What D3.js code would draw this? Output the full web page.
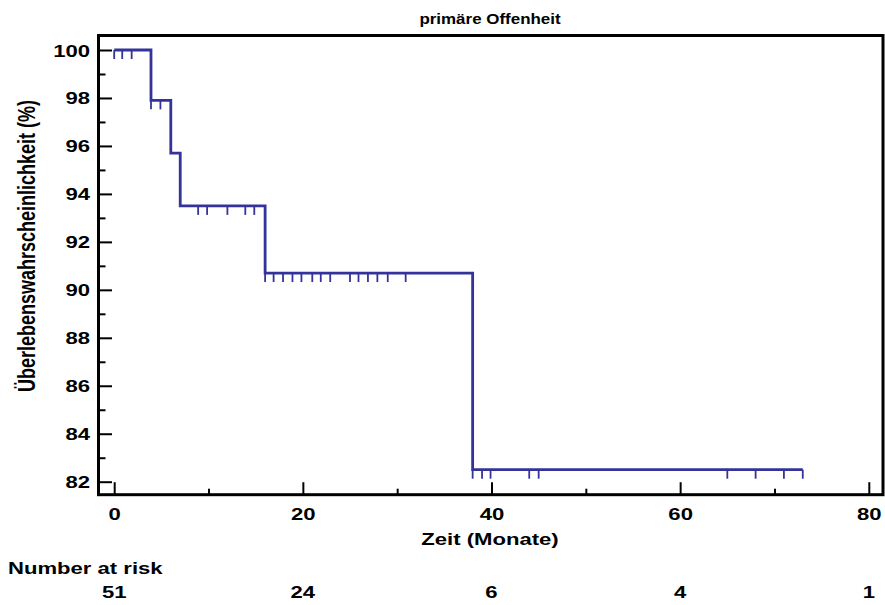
<!DOCTYPE html>
<html>
<head>
<meta charset="utf-8">
<script src="https://cdn.jsdelivr.net/npm/d3@7/dist/d3.min.js"></script>
<style>
  html, body { margin: 0; padding: 0; background: #fff; }
  svg { display: block; }
  text { font-family: "Liberation Sans", Arial, sans-serif; font-weight: bold; fill: #000; }
</style>
</head>
<body>
<svg id="chart" width="885" height="605"></svg>
<script>
// Kaplan-Meier estimate: step times (months) and survival (%) after each step
const stepTimes = [0, 3.9, 6, 7, 16, 38];
const stepSurvival = [100, 97.9, 95.7, 93.5, 90.7, 82.5];
const lastTime = 73;

// Censored observations (months)
const censorTimes = [0, 0.85, 1.85, 3.9, 4.9, 8.9, 9.85, 12, 13.9, 14.85,
  16, 16.9, 17.9, 18.9, 19.85, 21, 21.9, 22.9, 25, 25.9, 26.9, 27.9, 29, 30.9,
  38, 39, 39.9, 44, 45, 65, 68, 71, 73];

// Axis ticks
const yMajorTicks = [82, 84, 86, 88, 90, 92, 94, 96, 98, 100];
const yMinorTicks = [83, 85, 87, 89, 91, 93, 95, 97, 99];
const xMajorTicks = [0, 20, 40, 60, 80];
const xMinorTicks = [10, 30, 50, 70];

// Number at risk below the axis
const riskTimes = [0, 20, 40, 60, 80];
const riskCounts = [51, 24, 6, 4, 1];

const title = "primäre Offenheit";
const xTitle = "Zeit (Monate)";
const yTitle = "Überlebenswahrscheinlichkeit (%)";
const riskTitle = "Number at risk";

const svg = d3.select("#chart");
const curveColor = "#333399";
const sx = 1.3;      // horizontal stretch of lettering
const fs = 17;

const frame = { left: 98.5, right: 883, top: 35.5, bottom: 494.7 };
const x = d3.scaleLinear().domain([0, 80]).range([114.2, 868.8]);
const y = d3.scaleLinear().domain([82, 100]).range([481.7, 50]);

function stretchText(sel, k = sx) {
  sel.each(function () {
    const t = d3.select(this);
    const tx = +t.attr("x") || 0, ty = +t.attr("y") || 0;
    t.attr("x", 0).attr("y", 0)
     .attr("transform", `translate(${tx},${ty}) scale(${k},1)`);
  });
}

// Y axis: major ticks with labels, minor ticks
const yAxis = svg.append("g")
  .attr("transform", `translate(${frame.left},0)`)
  .call(d3.axisLeft(y).tickValues(yMajorTicks).tickSize(-13.5).tickPadding(8.5).tickFormat(d3.format("d")));
yAxis.select(".domain").remove();
yAxis.selectAll(".tick line").attr("stroke", "#000").attr("stroke-width", 2);
yAxis.selectAll(".tick text")
  .attr("dy", null).attr("y", 6)
  .style("font-size", fs + "px").style("font-family", null)
  .call(stretchText);

const yMinor = svg.append("g")
  .attr("transform", `translate(${frame.left},0)`)
  .call(d3.axisLeft(y).tickValues(yMinorTicks).tickSize(-7).tickFormat(""));
yMinor.select(".domain").remove();
yMinor.selectAll(".tick line").attr("stroke", "#000").attr("stroke-width", 2);

// X axis: major ticks with labels, minor ticks
const xAxis = svg.append("g")
  .attr("transform", `translate(0,${frame.bottom})`)
  .call(d3.axisBottom(x).tickValues(xMajorTicks).tickSize(-12.5).tickFormat(d3.format("d")));
xAxis.select(".domain").remove();
xAxis.selectAll(".tick line").attr("stroke", "#000").attr("stroke-width", 2);
xAxis.selectAll(".tick text")
  .attr("dy", null).attr("y", 25.5)
  .style("font-size", fs + "px").style("font-family", null)
  .call(stretchText);

const xMinor = svg.append("g")
  .attr("transform", `translate(0,${frame.bottom})`)
  .call(d3.axisBottom(x).tickValues(xMinorTicks).tickSize(-6).tickFormat(""));
xMinor.select(".domain").remove();
xMinor.selectAll(".tick line").attr("stroke", "#000").attr("stroke-width", 2);

// Plot frame
svg.append("rect")
  .attr("x", frame.left).attr("y", frame.top)
  .attr("width", frame.right - frame.left).attr("height", frame.bottom - frame.top)
  .attr("fill", "none").attr("stroke", "#000").attr("stroke-width", 3);

// Survival step curve
const curvePts = stepTimes.map((t, i) => [t, stepSurvival[i]]);
curvePts.push([lastTime, stepSurvival[stepSurvival.length - 1]]);
svg.append("path")
  .datum(curvePts)
  .attr("fill", "none")
  .attr("stroke", curveColor)
  .attr("stroke-width", 2.8)
  .attr("stroke-linejoin", "miter")
  .attr("d", d3.line().x(d => x(d[0])).y(d => y(d[1])).curve(d3.curveStepAfter));

// Survival at a given time (value after any step at that time)
function survivalAt(t) {
  let s = stepSurvival[0];
  stepTimes.forEach((st, i) => { if (st <= t) s = stepSurvival[i]; });
  return s;
}

// Censor marks hang below the curve
svg.append("g").selectAll("line")
  .data(censorTimes)
  .join("line")
  .attr("x1", d => x(d)).attr("x2", d => x(d))
  .attr("y1", d => y(survivalAt(d)))
  .attr("y2", d => y(survivalAt(d)) + 9)
  .attr("stroke", curveColor)
  .attr("stroke-width", 1.8);

// Titles
svg.append("text")
  .attr("x", 490).attr("y", 24)
  .attr("text-anchor", "middle")
  .style("font-size", "15px")
  .text(title)
  .call(stretchText, 1.13);

svg.append("text")
  .attr("x", 490).attr("y", 545)
  .attr("text-anchor", "middle")
  .style("font-size", fs + "px")
  .text(xTitle)
  .call(stretchText);

svg.append("text")
  .attr("transform", `translate(35,246) rotate(-90) scale(1,${sx})`)
  .attr("text-anchor", "middle")
  .style("font-size", "18px")
  .text(yTitle);

// Number at risk table
svg.append("text")
  .attr("x", 8).attr("y", 574)
  .attr("text-anchor", "start")
  .style("font-size", fs + "px")
  .text(riskTitle)
  .call(stretchText);

svg.append("g").selectAll("text")
  .data(riskTimes)
  .join("text")
  .attr("x", d => x(d)).attr("y", 598)
  .attr("text-anchor", "middle")
  .style("font-size", fs + "px")
  .text((d, i) => riskCounts[i])
  .call(stretchText);
</script>
</body>
</html>
